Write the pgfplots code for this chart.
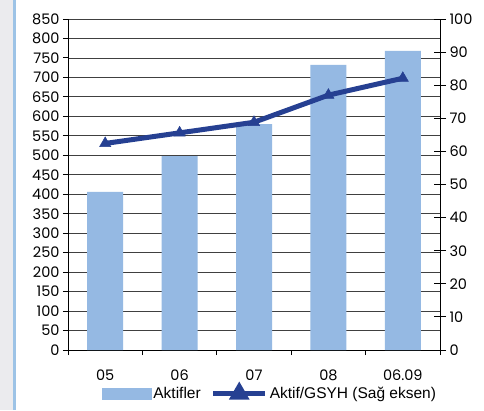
\documentclass[border=0pt]{standalone}
\usepackage{pgfplots}
\pgfplotsset{compat=1.18}
\usepackage{fontspec}
\setmainfont{Liberation Sans}
\newfontfamily\tickfont{Poppins}
\definecolor{barblue}{RGB}{149,185,227}
\definecolor{lineblue}{RGB}{38,64,146}
\definecolor{leftgray}{RGB}{235,235,238}
\definecolor{stripblue}{RGB}{157,195,230}
\begin{document}
\begin{tikzpicture}[x=1pt,y=1pt]
\fill[white] (0,0) rectangle (484,410);
\fill[leftgray] (0,0) rectangle (13,410);
\fill[stripblue] (13,0) rectangle (15.5,410);
\begin{axis}[
  at={(68pt,60pt)}, anchor=south west,
  scale only axis, width=372pt, height=331pt,
  xmin=-0.5, xmax=4.5, ymin=0, ymax=850,
  axis x line*=bottom, axis y line*=left,
  axis line style={black, line width=0.9pt},
  ytick={0,50,...,850},
  xtick={0,...,4}, xticklabels={05,06,07,08,06.09},
  minor xtick={-0.5,0.5,1.5,2.5,3.5,4.5},
  major x tick style={draw=none},
  minor x tick style={black, line width=0.9pt},
  tick style={black, line width=0.9pt},
  tick align=outside, major tick length=5pt, minor tick length=5pt,
  ymajorgrids, grid style={black!75, line width=0.8pt},
  ticklabel style={font=\tickfont\fontsize{14.5}{16}\selectfont},
  /pgf/number format/assume math mode=true,
  xticklabel style={yshift=-11pt},
]
\addplot[ybar, bar width=36pt, fill=barblue, draw=none] coordinates {(0,406)(1,498)(2,580)(3,732)(4,768)};
\end{axis}
\begin{axis}[
  at={(68pt,60pt)}, anchor=south west,
  scale only axis, width=372pt, height=331pt,
  xmin=-0.5, xmax=4.5, ymin=0, ymax=100,
  axis x line=none, axis y line*=right,
  axis line style={black, line width=0.9pt},
  ytick={0,10,...,100},
  tick style={black, line width=0.9pt},
  tick align=center, major tick length=12pt,
  ticklabel style={font=\tickfont\fontsize{14.5}{16}\selectfont},
  /pgf/number format/assume math mode=true,
  legend style={at={(0.543,-0.13)}, anchor=center, draw=none, fill=none,
    font=\fontsize{15.5}{17}\selectfont, inner sep=0pt},
  legend columns=2,
  /tikz/every even column/.append style={column sep=8pt},
]
\addlegendimage{legend image code/.code={\fill[barblue] (0pt,-5.5pt) rectangle (49pt,5.5pt);}}
\addlegendentry{Aktifler}
\addplot[lineblue, line width=5pt, mark=triangle*, mark size=6.5pt, mark options={solid, line width=0.5pt},
  legend image code/.code={\draw[lineblue, line width=5pt] (0pt,0pt) -- (52pt,0pt);
    \fill[lineblue] (26pt,0pt) +(90:7pt) -- +(210:7pt) -- +(330:7pt) -- cycle;}]
  coordinates {(0,62.4)(1,65.6)(2,68.8)(3,77.0)(4,82.1)};
\addlegendentry{Aktif/GSYH (Sağ eksen)}
\end{axis}
\end{tikzpicture}
\end{document}
